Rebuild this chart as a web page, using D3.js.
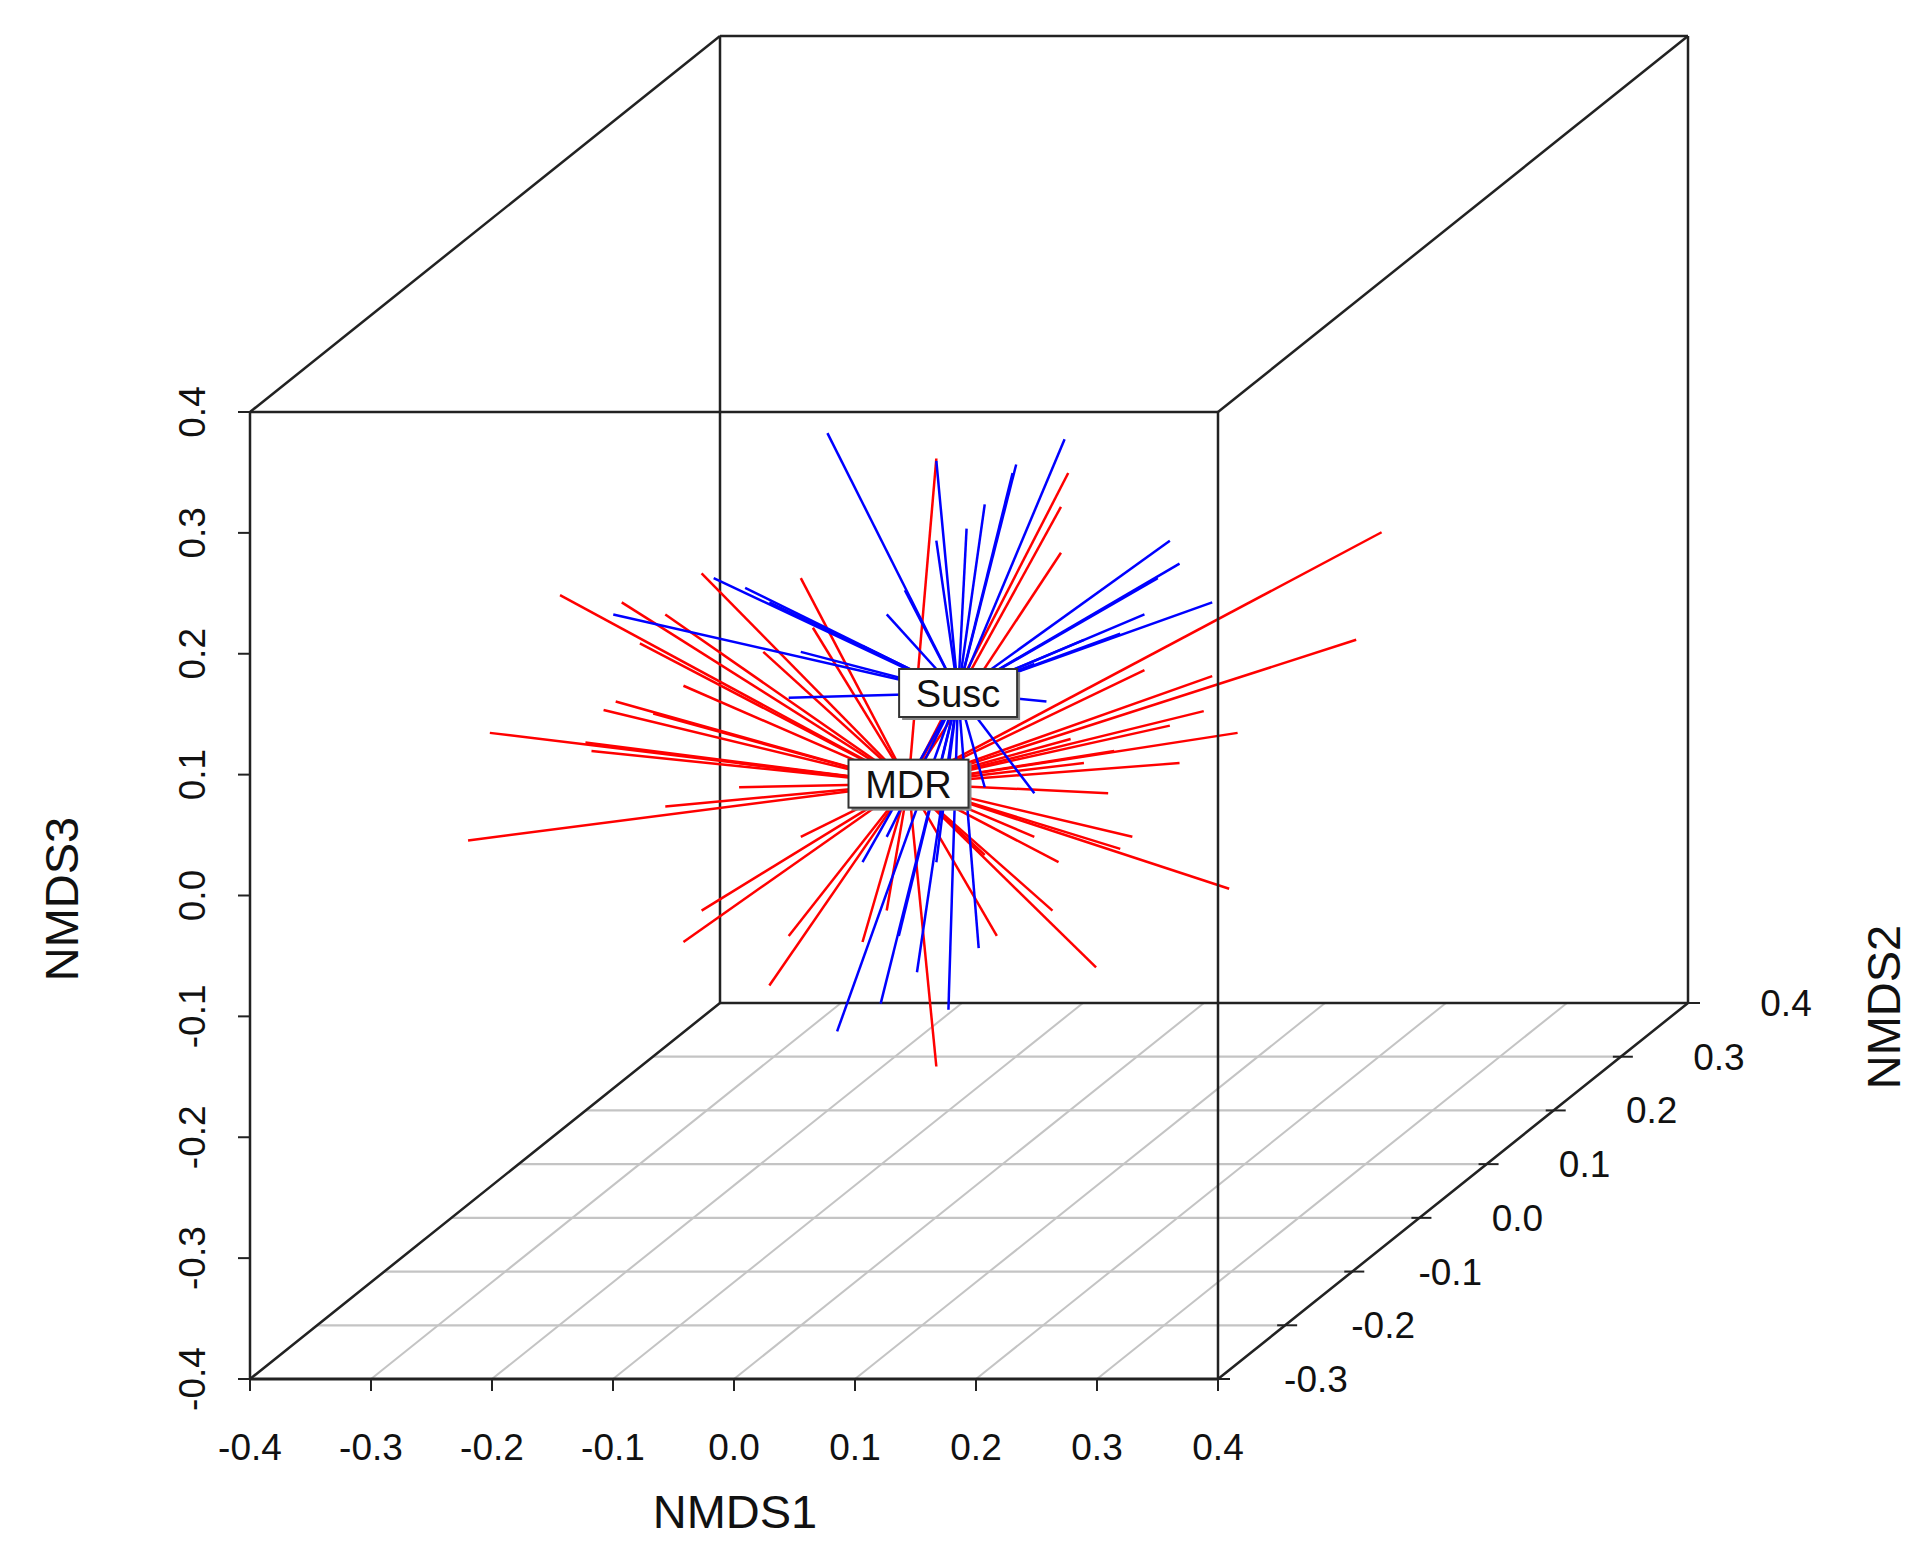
<!DOCTYPE html>
<html><head><meta charset="utf-8">
<script src="https://d3js.org/d3.v7.min.js"></script>
<style>body{margin:0;background:#fff}</style></head>
<body><svg id="c" width="1928" height="1549"></svg>
<script>
const xTicks=[-0.4,-0.3,-0.2,-0.1,0.0,0.1,0.2,0.3,0.4];
const yTicks=[-0.3,-0.2,-0.1,0.0,0.1,0.2,0.3,0.4];
const zTicks=[-0.4,-0.3,-0.2,-0.1,0.0,0.1,0.2,0.3,0.4];
const groups=["MDR","Susc"];
const centroids={MDR:[-0.05,0.05,-0.063],Susc:[-0.009,0.05,0.012]};
const blueX=[-0.117,0.079,-0.027,0.039,0.036,0.013,-0.002,-0.027,-0.053,0.166,0.174,0.156,0.201,0.145,0.125,0.095,-0.185,-0.211,-0.165,-0.294,-0.139,-0.149,-0.088,-0.068,0.054,0.064,0.054,0.013,-0.109,-0.073,-0.017,-0.043,-0.058,-0.027,0.008,-0.088,-0.068];
const blueZ=[0.227,0.222,0.204,0.201,0.194,0.168,0.148,0.138,0.097,0.138,0.119,0.107,0.087,0.077,0.061,0.056,0.099,0.107,0.087,0.077,0.046,0.008,0.051,0.077,0.036,0.005,-0.071,-0.066,-0.268,-0.245,-0.250,-0.219,-0.189,-0.128,-0.199,-0.128,-0.107];
const redX=[-0.027,0.082,0.076,0.076,0.341,0.320,0.222,0.201,0.194,0.174,0.120,0.115,0.125,0.135,0.215,0.105,0.069,0.013,-0.027,0.023,-0.165,-0.236,-0.221,-0.414,-0.251,-0.396,-0.317,-0.302,-0.236,-0.338,-0.287,-0.221,-0.251,-0.272,-0.170,-0.139,-0.129,-0.190,-0.139,-0.149,-0.088,-0.068,0.074,0.095,0.084,0.054,0.145,0.166,-0.312,-0.292,-0.261,-0.190];
const redZ=[0.206,0.194,0.166,0.128,0.145,0.056,-0.021,0.026,-0.003,-0.046,-0.036,-0.071,-0.117,-0.107,-0.150,-0.215,-0.168,-0.122,-0.297,-0.189,-0.230,-0.194,-0.168,-0.110,-0.082,-0.021,-0.029,-0.002,0.018,0.093,0.087,0.111,0.077,0.053,0.046,0.107,0.066,-0.066,-0.107,-0.189,-0.194,-0.168,-0.128,-0.046,-0.026,-0.107,0.031,-0.015,-0.036,0.005,-0.005,-0.046];

const svg=d3.select("#c");
const L=250,R=1218,T=412,B=1379,DX=470,DY=-376;
const sx=d3.scaleLinear().domain([-0.4,0.4]).range([L,R]);
const sz=d3.scaleLinear().domain([-0.4,0.4]).range([B,T]);
const sd=d3.scaleLinear().domain([-0.3,0.4]).range([0,1]);
const P=(x,y,z)=>[sx(x)+sd(y)*DX, sz(z)+sd(y)*DY];
const line=(a,b,col,w)=>svg.append("line").attr("x1",a[0]).attr("y1",a[1]).attr("x2",b[0]).attr("y2",b[1]).attr("stroke",col).attr("stroke-width",w);
const grey="#c4c4c4";
yTicks.forEach(y=>line(P(-0.4,y,-0.4),P(0.4,y,-0.4),grey,2.2));
xTicks.forEach(x=>line(P(x,-0.3,-0.4),P(x,0.4,-0.4),grey,2));
const k="#222";
line(P(-0.4,0.4,-0.4),P(-0.4,0.4,0.4),k,2.5);
line(P(-0.4,0.4,0.4),P(0.4,0.4,0.4),k,2.5);
line(P(0.4,0.4,0.4),P(0.4,0.4,-0.4),k,2.5);
line(P(-0.4,0.4,-0.4),P(0.4,0.4,-0.4),k,2.5);
line(P(-0.4,-0.3,-0.4),P(-0.4,0.4,-0.4),k,2.5);
line(P(-0.4,-0.3,0.4),P(-0.4,0.4,0.4),k,2.5);
line(P(0.4,-0.3,0.4),P(0.4,0.4,0.4),k,2.5);
line(P(0.4,-0.3,-0.4),P(0.4,0.4,-0.4),k,2.5);
const cM=P(...centroids.MDR), cS=P(...centroids.Susc);
redX.forEach((x,i)=>line(cM,P(x,0.05,redZ[i]),"#ff0000",2.5));
blueX.forEach((x,i)=>line(cS,P(x,0.05,blueZ[i]),"#0000ff",2.5));
line(P(-0.4,-0.3,-0.4),P(-0.4,-0.3,0.4),k,2.5);
line(P(-0.4,-0.3,0.4),P(0.4,-0.3,0.4),k,2.5);
line(P(0.4,-0.3,0.4),P(0.4,-0.3,-0.4),k,2.5);
line(P(-0.4,-0.3,-0.4),P(0.4,-0.3,-0.4),k,3);
const font="Liberation Sans, Arial, sans-serif";
const tk=(sel)=>sel.attr("font-family",font).attr("font-size",37).attr("fill","#111");
xTicks.forEach(x=>{const p=P(x,-0.3,-0.4);line(p,[p[0],p[1]+12],k,2);
 tk(svg.append("text").attr("x",p[0]).attr("y",p[1]+81).attr("text-anchor","middle")).text(x.toFixed(1));});
zTicks.forEach(z=>{const p=P(-0.4,-0.3,z);line(p,[p[0]-12,p[1]],k,2);
 tk(svg.append("text").attr("transform",`translate(${p[0]-45},${p[1]}) rotate(-90)`).attr("text-anchor","middle")).text(z.toFixed(1));});
yTicks.forEach(y=>{const p=P(0.4,y,-0.4);line([p[0]-8,p[1]],[p[0]+12,p[1]],k,2);
 tk(svg.append("text").attr("x",p[0]+98).attr("y",p[1]+13).attr("text-anchor","middle")).text(y.toFixed(1));});
svg.append("text").attr("x",735).attr("y",1528).attr("text-anchor","middle").attr("font-family",font).attr("font-size",47).attr("fill","#111").text("NMDS1");
svg.append("text").attr("transform","translate(78,899) rotate(-90)").attr("text-anchor","middle").attr("font-family",font).attr("font-size",47).attr("fill","#111").text("NMDS3");
svg.append("text").attr("transform","translate(1900,1007) rotate(-90)").attr("text-anchor","middle").attr("font-family",font).attr("font-size",47).attr("fill","#111").text("NMDS2");
[["MDR",cM],["Susc",cS]].forEach(([t,c])=>{
 const w=t==="MDR"?120:118,h=48;
 svg.append("rect").attr("x",c[0]-w/2+3).attr("y",c[1]-h/2+3).attr("width",w).attr("height",h).attr("fill","#888");
 svg.append("rect").attr("x",c[0]-w/2).attr("y",c[1]-h/2).attr("width",w).attr("height",h).attr("fill","#fff").attr("stroke","#333").attr("stroke-width",2);
 svg.append("text").attr("x",c[0]).attr("y",c[1]+14).attr("text-anchor","middle").attr("font-family",font).attr("font-size",38).attr("fill","#111").text(t);
});
</script></body></html>
